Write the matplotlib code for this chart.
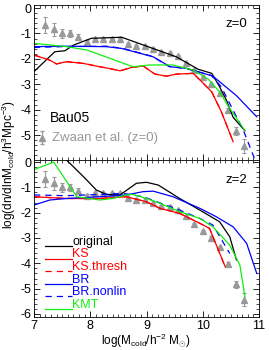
import numpy as np
import matplotlib
matplotlib.use("Agg")
import matplotlib.pyplot as plt
from matplotlib.ticker import MultipleLocator

plt.rcParams['font.family'] = ['Liberation Sans', 'DejaVu Sans']
plt.rcParams['mathtext.fontset'] = 'custom'
plt.rcParams['mathtext.rm'] = 'Liberation Sans'
plt.rcParams['mathtext.it'] = 'Liberation Sans'
plt.rcParams['axes.unicode_minus'] = False

# Zwaan et al. (z=0) observations, shown in both panels
zw_x = [7.20, 7.35, 7.49, 7.64, 7.79, 7.94, 8.08, 8.23, 8.38, 8.53, 8.67, 8.82, 8.97,
        9.12, 9.26, 9.41, 9.56, 9.71, 9.85, 10.00, 10.15, 10.30, 10.44, 10.59, 10.74]
zw_y = [-0.67, -0.84, -1.00, -1.00, -1.13, -1.33, -1.23, -1.23, -1.23, -1.23, -1.42, -1.48, -1.48,
        -1.63, -1.72, -1.78, -1.89, -2.15, -2.44, -2.73, -2.99, -3.36, -4.02, -4.83, -5.43]
zw_err = [0.30, 0.25, 0.17, 0.13, 0.12, 0.06, 0.05, 0.04, 0.04, 0.04, 0.04, 0.04, 0.04,
          0.04, 0.04, 0.04, 0.04, 0.04, 0.05, 0.05, 0.05, 0.06, 0.08, 0.15, 0.27]

# z=0 models
z0_orig_x = [7.0, 7.37, 7.55, 7.70, 8.02, 8.56, 9.53, 9.92, 10.16, 10.30, 10.42, 10.54, 10.75]
z0_orig_y = [-2.5, -1.72, -1.68, -1.46, -1.19, -1.15, -1.92, -2.41, -2.57, -3.1, -3.62, -4.3, -4.83]
z0_ks_x = [7.0, 7.28, 7.40, 7.58, 7.88, 8.17, 8.32, 8.53, 8.73, 8.94, 9.15, 9.36, 9.53, 9.83,
           9.95, 10.16, 10.33, 10.54]
z0_ks_y = [-1.85, -2.05, -2.2, -2.11, -2.18, -2.31, -2.37, -2.47, -2.34, -2.28, -2.6, -2.68, -2.6,
           -2.57, -2.83, -3.3, -4.08, -5.26]
z0_br_x = [7.0, 7.5, 8.29, 8.56, 9.12, 9.42, 9.71, 10.18, 10.60, 10.96]
z0_br_y = [-1.52, -1.5, -1.52, -1.59, -1.92, -2.31, -2.37, -2.68, -3.45, -4.28]
z0_brn_x = [7.0, 7.5, 8.3, 8.6, 9.1, 9.4, 9.7, 10.15, 10.33, 10.51, 10.72, 10.93]
z0_brn_y = [-1.55, -1.52, -1.5, -1.6, -1.9, -2.3, -2.38, -2.65, -3.1, -3.89, -4.8, -5.98]
z0_kmt_x = [7.0, 7.58, 7.94, 8.35, 8.76, 9.06, 9.47, 9.83, 10.10, 10.30, 10.45, 10.75]
z0_kmt_y = [-1.39, -1.52, -1.65, -1.98, -2.31, -2.24, -2.24, -2.44, -2.8, -3.3, -3.85, -4.82]

# z=2 models
z2_orig_x = [7.25, 7.45, 7.67, 7.88, 8.11, 8.29, 8.53, 8.82, 9.0, 9.21, 9.59, 9.95, 10.3, 10.48, 10.6]
z2_orig_y = [0.55, 0.35, -0.12, -0.58, -1.11, -1.28, -1.3, -0.84, -0.8, -0.91, -1.44, -1.9, -2.36,
             -2.95, -3.87]
z2_ks_x = [7.0, 7.58, 8.17, 8.64, 9.0, 9.24, 9.59, 9.95, 10.12, 10.4]
z2_ks_y = [-1.37, -1.44, -1.44, -1.37, -1.57, -1.83, -2.03, -2.42, -2.62, -4.14]
z2_kst_x = [7.0, 7.58, 8.17, 8.64, 9.0, 9.24, 9.59, 9.95, 10.12, 10.4]
z2_kst_y = [-1.37, -1.44, -1.44, -1.37, -1.57, -1.83, -2.03, -2.42, -2.62, -4.14]
z2_br_x = [7.0, 7.28, 7.58, 8.17, 8.64, 8.94, 9.12, 9.47, 9.95, 10.24, 10.54, 10.78, 10.96]
z2_br_y = [-1.7, -1.5, -1.44, -1.37, -1.3, -1.17, -1.15, -1.37, -1.83, -2.16, -2.56, -3.21, -4.4]
z2_brn_x = [7.0, 7.58, 8.17, 8.59, 8.94, 9.59, 9.95, 10.18, 10.48]
z2_brn_y = [-1.3, -1.33, -1.28, -1.24, -1.37, -1.9, -2.23, -2.49, -3.61]
z2_kmt_x = [7.0, 7.35, 7.76, 7.99, 8.17, 8.4, 8.64, 8.76, 9.0, 9.24, 9.59, 9.95, 10.18, 10.48,
            10.66, 10.75]
z2_kmt_y = [-0.3, 0.0, -1.37, -1.44, -1.5, -1.44, -1.3, -1.28, -1.44, -1.63, -1.96, -2.23, -2.56,
            -3.28, -4.07, -5.32]

labels = ['original', 'KS', 'KS.thresh', 'BR', 'BR.nonlin', 'KMT']
colors = ['black', '#ff0000', '#ff0000', '#0000ff', '#0000ff', '#11ee11']
styles = ['-', '-', (0, (5, 4)), '-', (0, (5, 4)), '-']
GRAY = '#999999'
LW = 0.9


def style_axis(ax, ylim):
    ax.set_xlim(7, 11)
    ax.set_ylim(*ylim)
    ax.xaxis.set_major_locator(MultipleLocator(1))
    ax.xaxis.set_minor_locator(MultipleLocator(0.1))
    ax.yaxis.set_major_locator(MultipleLocator(1))
    ax.yaxis.set_minor_locator(MultipleLocator(0.2))
    ax.tick_params(which='both', direction='in', top=True, right=True, labelsize=9)
    ax.tick_params(which='major', length=4, width=0.6, pad=2)
    ax.tick_params(which='minor', length=2, width=0.5)
    for s in ax.spines.values():
        s.set_linewidth(0.6)


def plot_zwaan(ax):
    ax.errorbar(zw_x, zw_y, yerr=zw_err, fmt='^', color=GRAY, ms=3.8, mec=GRAY,
                elinewidth=0.8, capsize=1.5, capthick=0.8, zorder=1)


fig = plt.figure(figsize=(2.69, 3.5), dpi=100)
ax1 = fig.add_axes([34 / 269, 1 - 160 / 350, 225 / 269, 155 / 350])
ax2 = fig.add_axes([34 / 269, 1 - 317 / 350, 225 / 269, 157 / 350])

# top panel, z=0
plot_zwaan(ax1)
top_series = [(z0_orig_x, z0_orig_y), (z0_ks_x, z0_ks_y), (z0_ks_x, z0_ks_y),
              (z0_br_x, z0_br_y), (z0_brn_x, z0_brn_y), (z0_kmt_x, z0_kmt_y)]
for (x, y), c, ls in zip(top_series, colors, styles):
    ax1.plot(x, y, color=c, ls=ls, lw=LW)
style_axis(ax1, (-5.98, 0.12))
ax1.tick_params(labelbottom=False)
ax1.text(0.947, 0.877, 'z=0', transform=ax1.transAxes, ha='right', va='center', fontsize=9.5)
ax1.text(0.071, 0.27, 'Bau05', transform=ax1.transAxes, ha='left', va='center', fontsize=10)
ax1.errorbar([0.036], [0.145], yerr=[0.04], fmt='^', color=GRAY, ms=3.8, elinewidth=0.8,
             capsize=1.5, transform=ax1.transAxes, clip_on=False)
ax1.text(0.08, 0.142, 'Zwaan et al. (z=0)', transform=ax1.transAxes, ha='left', va='center',
         fontsize=9.5, color=GRAY)

# bottom panel, z=2
plot_zwaan(ax2)
bot_series = [(z2_orig_x, z2_orig_y), (z2_ks_x, z2_ks_y), (z2_kst_x, z2_kst_y),
              (z2_br_x, z2_br_y), (z2_brn_x, z2_brn_y), (z2_kmt_x, z2_kmt_y)]
for (x, y), c, ls in zip(bot_series, colors, styles):
    ax2.plot(x, y, color=c, ls=ls, lw=LW)
style_axis(ax2, (-6.12, 0.08))
ax2.text(0.947, 0.873, 'z=2', transform=ax2.transAxes, ha='right', va='center', fontsize=9.5)

# legend drawn by hand: line under text baseline
for i, (lab, c, ls) in enumerate(zip(labels, colors, styles)):
    yy = 0.452 - 0.080 * i
    ax2.plot([0.049, 0.169], [yy, yy], color=c, ls=ls, lw=LW, transform=ax2.transAxes)
    ax2.text(0.17, yy - 0.012, lab, transform=ax2.transAxes, ha='left', va='bottom',
             fontsize=9, color=c)

fig.text(146 / 269, 0.027, r'log(M$_{\rm cold}$/h$^{-2}$ M$_{\odot}$)', ha='center',
         va='center', fontsize=8.5)
fig.text(0.032, 0.53, r'log(dn/dlnM$_{\rm cold}$/h$^{3}$Mpc$^{-3}$)', rotation=90,
         ha='center', va='center', fontsize=8.5)

fig.savefig('out.png', dpi=100)
